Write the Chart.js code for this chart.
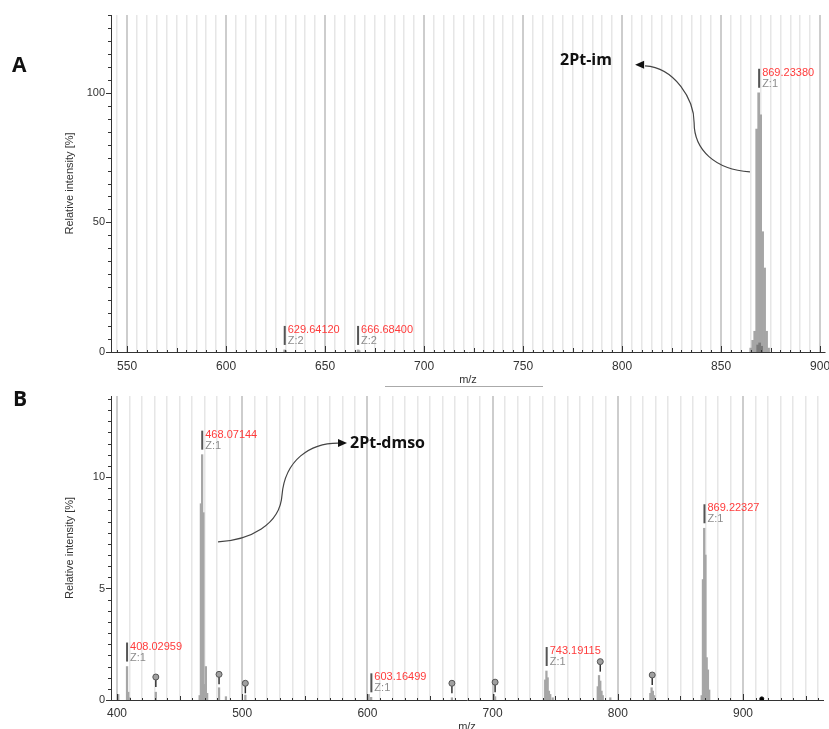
<!DOCTYPE html>
<html>
<head>
<meta charset="utf-8">
<script src="https://cdn.jsdelivr.net/npm/chart.js@4.4.1/dist/chart.umd.min.js"></script>
<style>
  html, body { margin: 0; padding: 0; background: #fff; width: 829px; height: 729px; overflow: hidden; }
  canvas { position: absolute; left: 0; }
  #chartA { top: 0; }
  #chartB { top: 388px; }
</style>
</head>
<body>
<canvas id="chartA" width="829" height="388"></canvas>
<canvas id="chartB" width="829" height="350"></canvas>
<script>
// ---- Panel A : 2Pt-im ----
const mzA  = [629.6, 630.1, 666.7, 667.2, 865, 866, 867, 868, 869, 870, 871, 872, 873, 874];
const intA = [0.8, 0.5, 0.8, 0.5, 1.5, 4.5, 8, 86, 100, 91.5, 46.4, 32.4, 8, 1.5];
const mzA_dark  = [868.5, 869.5, 870.5];
const intA_dark = [2.7, 3.5, 2.2];
const labelMzA = ['629.64120', '666.68400', '869.23380'];
const labelZA  = [2, 2, 1];

// ---- Panel B : 2Pt-dmso ----
const mzB  = [401, 408, 409, 410, 431, 466, 467, 468, 469, 470, 471, 472, 481.5, 487, 502.5,
              601, 603, 667.5, 701, 702, 742, 743, 744, 745, 746, 748,
              784, 785, 786, 787, 788, 794, 826, 827, 828, 829,
              867, 868, 869, 870, 871, 872, 873];
const intB = [0.25, 1.5, 0.35, 0.1, 0.35, 0.2, 8.8, 11.0, 8.4, 0.7, 1.5, 0.3, 0.55, 0.15, 0.22,
              0.25, 0.12, 0.1, 0.25, 0.15, 0.9, 1.3, 1.0, 0.4, 0.25, 0.1,
              0.6, 1.1, 0.85, 0.4, 0.2, 0.1, 0.3, 0.55, 0.4, 0.2,
              0.2, 5.4, 7.7, 6.5, 1.9, 1.35, 0.45];
const pinMzB = [431, 481.5, 502.5, 667.5, 702, 786, 827.5];
const pinIntB = [1.03, 1.15, 0.75, 0.75, 0.8, 1.72, 1.12];
const dotMzB = [915];
const dotIntB = [0.05];
const labelMzB = ['408.02959', '468.07144', '603.16499', '743.19115', '869.22327'];
const labelZB  = [1, 1, 1, 1, 1];

// tick labels
const yTickStepA = 50, yTickStepB = 5;
const xLabelStepA = 50, xLabelStepB = 100;

Chart.defaults.font.family = "'Liberation Sans', Arial, sans-serif";
Chart.defaults.color = '#333';

const pts = (xs, ys) => xs.map((x, i) => ({ x: x, y: ys[i] }));

const spectrumDeco = {
  id: 'spectrumDeco',
  afterDatasetsDraw(chart, args, o) {
    const { ctx, chartArea: area } = chart;
    const xs = chart.scales.x, ys = chart.scales.y;
    const X = v => xs.getPixelForValue(v);
    const Y = v => ys.getPixelForValue(v);
    ctx.save();

    // tick marks on x (pointing up) and y (pointing left)
    ctx.strokeStyle = '#333';
    ctx.lineWidth = 1;
    const [xm, xmid, xM] = o.xTicks;
    for (let v = Math.ceil(xs.min / xm) * xm; v <= xs.max; v += xm) {
      const len = v % xM === 0 ? 6 : v % xmid === 0 ? 4 : 2;
      const px = Math.round(X(v)) + 0.5;
      ctx.beginPath(); ctx.moveTo(px, area.bottom); ctx.lineTo(px, area.bottom - len); ctx.stroke();
    }
    const [ym, yM] = o.yTicks;
    for (let v = 0; v <= ys.max; v += ym) {
      const len = v % yM === 0 ? 5 : 3;
      const py = Math.round(Y(v)) + 0.5;
      ctx.beginPath(); ctx.moveTo(area.left, py); ctx.lineTo(area.left - len, py); ctx.stroke();
    }

    // pins
    (o.pins || []).forEach(p => {
      const px = X(p.x), py = Y(p.y);
      ctx.strokeStyle = '#333'; ctx.lineWidth = 1.5;
      ctx.beginPath(); ctx.moveTo(px, py + 2); ctx.lineTo(px, py + 10); ctx.stroke();
      ctx.beginPath(); ctx.arc(px, py, 3, 0, Math.PI * 2);
      ctx.fillStyle = '#a0a0a0'; ctx.fill();
      ctx.strokeStyle = '#555'; ctx.lineWidth = 1; ctx.stroke();
    });

    // peak labels
    ctx.font = "11px 'Liberation Sans', Arial, sans-serif";
    ctx.textAlign = 'left';
    ctx.textBaseline = 'middle';
    o.labels.forEach((txt, i) => {
      const m = parseFloat(txt);
      const near = o.bars.filter(b => Math.abs(b.x - m) < 0.6).map(b => b.y);
      const peak = near.length ? Math.max(...near) : 0;
      const px = X(m), bottom = Y(peak) - 5, top = bottom - 19;
      ctx.fillStyle = '#555';
      ctx.fillRect(px - 1, top, 2, bottom - top);
      ctx.fillStyle = '#ff3b3b';
      ctx.fillText(txt, px + 3, top + 4);
      ctx.fillStyle = '#8c8c8c';
      ctx.fillText('Z:' + o.z[i], px + 3, top + 15);
    });

    // curved arrow
    const a = o.arrow.map(p => [X(p[0]), Y(p[1])]);
    ctx.strokeStyle = '#444'; ctx.lineWidth = 1.2;
    ctx.beginPath();
    ctx.moveTo(a[0][0], a[0][1]);
    ctx.bezierCurveTo(a[1][0], a[1][1], a[2][0], a[2][1], a[3][0], a[3][1]);
    ctx.bezierCurveTo(a[4][0], a[4][1], a[5][0], a[5][1], a[6][0], a[6][1]);
    ctx.stroke();
    const tip = a[7], dir = Math.sign(tip[0] - a[6][0]);
    ctx.fillStyle = '#111';
    ctx.beginPath();
    ctx.moveTo(tip[0], tip[1]);
    ctx.lineTo(tip[0] - dir * 9, tip[1] - 4);
    ctx.lineTo(tip[0] - dir * 9, tip[1] + 4);
    ctx.closePath(); ctx.fill();

    // species name
    ctx.font = "bold 16px 'Open Sans', sans-serif";
    ctx.fillStyle = '#111';
    ctx.fillText(o.name.text, X(o.name.x), Y(o.name.y));

    // panel letter
    ctx.font = "bold 21px 'Open Sans', sans-serif";
    ctx.fillText(o.letter.text, o.letter.px, o.letter.py);

    // scroll bar under the axis title
    if (o.underline) {
      ctx.strokeStyle = '#aaa'; ctx.lineWidth = 1;
      ctx.beginPath();
      ctx.moveTo(o.underline[0], o.underline[2] + 0.5);
      ctx.lineTo(o.underline[1], o.underline[2] + 0.5);
      ctx.stroke();
    }
    ctx.restore();
  }
};

function makeChart(id, p) {
  const datasets = [
    { type: 'bar', data: p.bars, backgroundColor: '#a6a6a6', barThickness: p.barW, grouped: false, order: 2 }
  ];
  if (p.dark) datasets.push({ type: 'bar', data: p.dark, backgroundColor: '#7a7a7a', barThickness: p.barW, grouped: false, order: 1 });
  if (p.dots) datasets.push({ type: 'line', data: p.dots, showLine: false, pointRadius: 2, backgroundColor: '#000', borderColor: '#000', order: 0 });

  return new Chart(document.getElementById(id), {
    type: 'bar',
    data: { datasets },
    options: {
      responsive: false,
      animation: false,
      devicePixelRatio: 1,
      layout: { padding: p.padding },
      plugins: {
        legend: { display: false },
        tooltip: { enabled: false },
        spectrumDeco: p.deco
      },
      scales: {
        x: {
          type: 'linear',
          min: p.xMin, max: p.xMax,
          offset: false,
          afterFit: s => { s.height = p.xHeight; s.paddingLeft = 0; s.paddingRight = 0; },
          grid: {
            offset: false,
            drawTicks: false,
            color: c => {
              const v = Math.round(c.tick.value * 1000) / 1000;
              if (v % p.gridStep !== 0) return 'rgba(0,0,0,0)';
              return v % p.xLabelStep === 0 ? '#cdcdcd' : '#e6e6e6';
            },
            lineWidth: c => (Math.round(c.tick.value) % p.xLabelStep === 0 ? 2 : 1.5)
          },
          border: { color: '#333', width: 1 },
          ticks: {
            stepSize: p.gridStep,
            includeBounds: false,
            autoSkip: false,
            maxRotation: 0,
            padding: p.xTickPad,
            font: { size: 12 },
            color: '#333',
            callback: v => (Math.round(v * 1000) / 1000) % p.xLabelStep === 0 ? String(v) : ''
          },
          title: { display: true, text: 'm/z', font: { size: 11 }, color: '#333', padding: { top: 0, bottom: p.xTitlePad } }
        },
        y: {
          min: 0, max: p.yMax,
          afterFit: s => { s.width = 111; s.paddingTop = 0; s.paddingBottom = 0; },
          grid: { display: false, drawTicks: false },
          border: { color: '#333', width: 1 },
          ticks: { stepSize: p.yStep, includeBounds: false, padding: 6, font: { size: 11 }, color: '#333' },
          title: { display: true, text: 'Relative intensity [%]', font: { size: 11 }, color: '#333', padding: { top: 63, bottom: 0 } }
        }
      }
    },
    plugins: [spectrumDeco]
  });
}

const barsA = pts(mzA, intA);
makeChart('chartA', {
  bars: barsA,
  dark: pts(mzA_dark, intA_dark),
  barW: 2,
  padding: { top: 15, right: 4, left: 0, bottom: 0 },
  xMin: 541.9, xMax: 902.5, xHeight: 36, xTickPad: 7, xTitlePad: 1,
  gridStep: 5, xLabelStep: xLabelStepA,
  yMax: 130, yStep: yTickStepA,
  deco: {
    xTicks: [5, 25, 50], yTicks: [5, 50],
    bars: barsA, labels: labelMzA, z: labelZA,
    arrow: [[864.6, 69.5], [847.0, 70.3], [836.4, 78.0], [836.4, 88.4], [836.4, 97.3], [826.8, 109.7], [811.6, 110.4], [806.6, 110.8]],
    name: { text: '2Pt-im', x: 768.7, y: 112.5 },
    letter: { text: 'A', px: 12, py: 66 },
    underline: [385, 543, 386]
  }
});

const barsB = pts(mzB, intB);
makeChart('chartB', {
  bars: barsB,
  dots: pts(dotMzB, dotIntB),
  barW: 1.6,
  padding: { top: 8, right: 6, left: 0, bottom: 0 },
  xMin: 395.2, xMax: 963.9, xHeight: 38, xTickPad: 6, xTitlePad: 4,
  gridStep: 10, xLabelStep: xLabelStepB,
  yMax: 13.63, yStep: yTickStepB,
  deco: {
    xTicks: [10, 50, 100], yTicks: [0.5, 5],
    bars: barsB, labels: labelMzB, z: labelZB,
    pins: pts(pinMzB, pinIntB),
    arrow: [[480.7, 7.09], [506.2, 7.17], [530.2, 7.85], [531.8, 9.19], [534.2, 10.76], [554.2, 11.52], [576.5, 11.52], [583.7, 11.52]],
    name: { text: '2Pt-dmso', x: 586.1, y: 11.5 },
    letter: { text: 'B', px: 13, py: 12 }
  }
});
</script>
</body>
</html>
